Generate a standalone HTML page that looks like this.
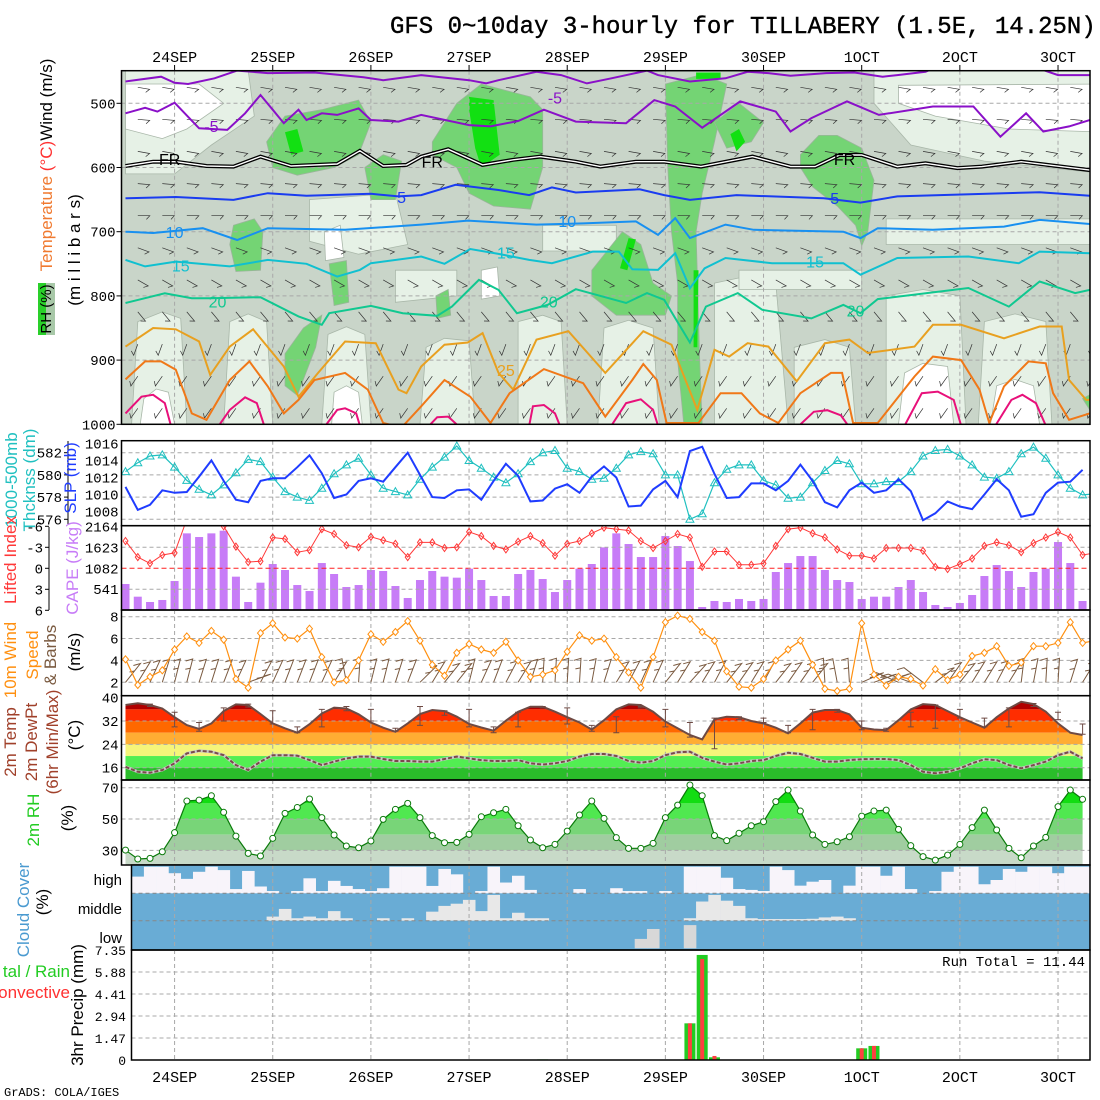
<!DOCTYPE html>
<html><head><meta charset="utf-8">
<style>
html,body{margin:0;padding:0;background:#fff;}
svg{display:block;font-family:"Liberation Mono",monospace;}
</style></head>
<body>
<svg id="chart" width="1100" height="1100" viewBox="0 0 1100 1100" xmlns="http://www.w3.org/2000/svg">
<rect x="0" y="0" width="1100" height="1100" fill="#fff"/>
<text x="390" y="33" font-size="24" fill="#000" stroke="#000" stroke-width="0.4">GFS 0~10day 3-hourly for TILLABERY (1.5E, 14.25N)</text>
<g id="g"></g>
<text x="4" y="1096" font-size="12" fill="#000">GrADS: COLA/IGES</text>
</svg>
<script>
// ---------- DATA ----------
const dayLabels = ["24SEP","25SEP","26SEP","27SEP","28SEP","29SEP","30SEP","1OCT","2OCT","3OCT"];
const dayIndex = [4,12,20,28,36,44,52,60,68,76];
const slp = [1010.9,1008.2,1008.8,1010.5,1010.2,1010.3,1012.1,1014.0,1011.6,1009.4,1009.1,1011.6,1011.9,1011.9,1013.2,1014.6,1012.5,1009.6,1010.0,1011.6,1011.9,1011.5,1013.2,1014.9,1012.3,1009.7,1009.6,1010.5,1010.6,1009.4,1011.6,1013.6,1012.2,1009.2,1009.3,1010.7,1011.2,1010.2,1012.1,1013.3,1012.0,1008.6,1008.7,1010.6,1011.6,1009.7,1015.1,1015.6,1012.4,1009.6,1009.7,1011.3,1011.3,1010.5,1011.6,1013.5,1011.6,1009.1,1008.5,1010.5,1011.4,1010.2,1010.5,1011.8,1010.4,1007.0,1007.8,1009.2,1008.6,1008.3,1010.0,1011.8,1010.5,1007.4,1007.7,1010.2,1011.4,1011.5,1012.9];
const thick = [580.3,581.1,581.7,581.8,580.7,579.5,578.7,578.2,579.1,580.2,581.4,581.2,579.8,578.5,578.0,577.7,578.8,580.1,580.9,581.5,580.0,578.8,578.5,578.2,579.6,580.7,581.6,582.6,581.3,580.6,579.8,579.3,580.1,581.2,582.0,582.2,580.6,580.3,579.6,579.7,580.6,581.8,582.1,581.9,580.0,580.0,576.0,576.5,579.3,580.5,580.9,580.9,579.5,579.1,577.9,578.0,579.3,580.4,581.3,581.0,579.2,579.2,579.4,579.4,580.3,581.7,582.2,582.3,581.7,580.9,579.8,579.7,580.3,581.9,582.5,581.5,580.0,578.8,578.2,578.3];
const cape = [675,346,208,260,753,1991,1896,1991,2060,866,208,710,1195,1039,649,493,1220,935,597,649,1039,1013,623,312,779,1013,866,840,1073,779,364,364,935,1039,805,467,779,1073,1195,1627,1991,1714,1376,1376,1922,1662,1272,78,234,208,286,234,286,987,1220,1402,1402,1039,779,727,286,346,346,597,779,467,130,78,182,390,883,1168,1013,597,987,1073,1766,1220,234];
const liftedIndex = [-3.9,-1.6,-0.7,-1.9,-2.2,-7,-7,-7,-6.0,-3.1,-0.9,-1.0,-4.4,-4.2,-2.3,-2.6,-5.6,-4.9,-3.3,-3.0,-4.5,-4.0,-3.5,-1.6,-3.7,-3.7,-2.9,-3.0,-5.2,-4.6,-3.2,-2.7,-3.8,-4.6,-3.6,-1.8,-3.5,-3.9,-5.0,-5.8,-5.6,-5.4,-3.9,-2.9,-3.9,-4.9,-4.4,-0.2,-2.4,-2.4,-0.5,-0.5,-0.7,-3.2,-5.6,-5.8,-5.0,-4.4,-2.7,-1.8,-1.8,-1.4,-2.9,-2.9,-2.9,-2.5,-0.2,0.1,-0.6,-1.4,-3.2,-3.7,-3.3,-2.3,-3.6,-4.4,-5.2,-4.4,-1.9,-2.2];
const windSpeed = [4.1,1.75,2.5,3.1,5.0,6.2,5.6,6.7,5.9,2.3,1.5,6.5,7.4,6.1,6.0,6.9,4.3,2.0,2.2,4.0,6.4,5.7,6.6,7.6,5.8,3.6,2.6,4.7,5.5,5.0,4.7,5.7,4.0,2.5,2.7,3.1,4.8,6.3,5.8,6.0,4.3,2.9,1.5,4.3,7.5,8.1,7.8,6.6,5.8,3.0,1.6,1.5,2.3,4.0,5.0,5.8,3.6,1.4,1.2,1.4,7.4,2.7,1.7,2.5,2.3,1.7,3.2,2.2,2.7,4.4,4.7,5.3,3.5,3.8,5.3,5.3,5.6,7.5,5.6,5.8];
const windDir = [250,240,230,220,215,215,220,220,225,230,300,235,230,225,225,225,230,240,180,200,215,215,220,225,260,240,250,250,215,230,225,235,240,220,200,200,200,200,210,220,240,235,230,230,250,240,255,240,235,250,245,240,235,250,245,245,250,190,180,190,290,300,315,100,95,120,270,245,250,240,240,235,240,205,210,200,200,220,240,230];
const temp2m = [37.5,38.1,37.5,36.3,33.3,30.6,29.3,31.2,35.4,37.7,37.5,34.4,31.2,29.5,28.0,30.9,34.6,36.6,36.3,34.3,31.5,29.7,28.3,31.2,34.4,35.8,35.4,33.5,31.0,29.8,28.7,32.1,35.2,36.9,36.9,35.2,33.3,31.5,29.1,32.3,36.0,37.7,37.5,35.2,31.8,29.5,27.2,25.7,32.6,33.5,33.3,32.0,31.2,29.7,27.8,31.2,34.9,35.8,35.8,34.3,29.7,29.1,28.9,32.3,36.0,37.8,37.5,35.4,33.3,31.5,29.7,33.3,36.3,38.6,37.8,35.2,31.2,28.0,27.2];
const dewPt = [16.3,14.6,14.3,15.2,17.5,20.9,21.8,21.5,20.3,16.9,15.2,18.1,20.3,20.3,20.1,18.6,16.9,18.1,19.2,19.8,19.8,19.0,18.3,18.3,18.1,18.1,19.0,19.8,19.2,18.6,18.3,18.3,18.6,17.5,17.1,17.5,18.3,19.8,20.7,20.7,20.0,18.3,17.7,18.3,20.3,21.3,21.5,19.4,18.1,17.1,17.5,18.3,18.6,20.0,21.1,20.7,19.4,18.1,18.1,18.6,18.9,19.0,19.0,18.6,16.9,14.6,14.1,14.6,15.8,17.5,18.9,18.6,16.9,15.8,16.9,18.1,20.3,21.5,19.2];
const tMaxIdx = [2,4,6,8,10,12,14,16,18,20,22,24,26,28,30,32,34,36,38,40,42,44,46,48,50,52,54,56,58,60,62,64,66,68,70,72,74,76,78];
const tMax = [37.8,35.0,31.5,36.5,37.8,35.5,30.0,36.0,37.0,36.0,29.5,37.0,35.5,36.0,30.0,35.0,37.0,36.5,30.5,33.5,37.0,36.0,31.5,33.0,33.5,33.0,30.5,36.0,36.0,32.0,29.5,35.0,37.5,36.0,33.0,36.5,38.0,35.0,31.0];
const tMin = [37.0,30.0,28.5,32.0,36.8,31.0,28.0,30.0,35.5,32.0,28.5,30.5,34.0,30.0,28.0,30.0,36.5,31.0,28.5,28.0,36.5,30.0,26.5,22.5,32.5,31.5,28.0,29.0,35.0,29.0,28.5,30.0,29.5,33.0,30.0,30.0,37.0,32.5,27.5];
const rh2m = [30.2,24.5,24.9,29.1,41.3,61.5,62.1,64.9,54.3,39.1,28.1,26.4,37.7,53.6,57.4,62.8,50.9,39.8,32.8,31.7,36.0,49.8,56.2,60.0,50.9,39.4,34.9,35.1,40.2,51.5,54.0,56.2,45.7,36.6,31.7,33.8,42.3,52.6,61.5,50.4,38.1,31.3,31.3,34.5,50.9,58.9,71.7,64.9,39.4,36.2,40.9,45.7,48.3,61.1,68.5,55.1,39.8,33.8,35.5,38.7,51.9,55.1,55.7,43.4,33.0,26.0,23.8,27.0,33.8,44.5,55.7,43.0,31.3,25.3,32.8,38.3,57.9,68.5,62.6];
const cloudHigh = [0,0.59,0.94,0.94,0.71,0.51,0.76,0.94,0.82,0.15,0.79,0.24,0.08,0,0.08,0.53,0.08,0.44,0.26,0.15,0.08,0.18,0.94,0.94,0.94,0.26,0.86,0.67,0,0.08,0.94,0.38,0.62,0.12,0,0,0,0.15,0,0,0.18,0.08,0.08,0,0.08,0,0.94,0.94,0.94,0.55,0.15,0.12,0.08,0.94,0.82,0.27,0.41,0.47,0,0.27,0.94,0.94,0.62,0.94,0.15,0,0.08,0.76,0.94,0.94,0.32,0.47,0.86,0.76,0.94,0.94,0.71,0.94,0.94,0.94];
const cloudMid = [0,0,0,0,0,0,0,0,0,0,0,0,0.15,0.43,0.09,0.15,0.09,0.35,0.09,0,0,0.09,0,0.09,0,0.33,0.54,0.62,0.76,0.35,0.94,0.09,0.29,0.09,0.09,0,0,0,0,0,0,0,0,0,0,0,0.09,0.7,0.94,0.73,0.54,0.09,0.06,0.06,0.06,0.06,0.07,0.12,0.15,0.09,0,0,0,0,0,0,0,0,0,0,0,0,0,0,0,0,0,0,0,0];
const cloudLow = [0,0,0,0,0,0,0,0,0,0,0,0,0,0,0,0,0,0,0,0,0,0,0,0,0,0,0,0,0,0,0,0,0,0,0,0,0,0,0,0,0,0,0.34,0.7,0,0,0.84,0,0,0,0,0,0,0,0,0,0,0,0,0,0,0,0,0,0,0,0,0,0,0,0,0,0,0,0,0,0,0,0,0];
const precipIdx = [34,41,46,47,48,60,61];
const precipTotal = [0.04,0.03,2.45,7.02,0.18,0.78,0.94];
const precipConv = [0.03,0.03,2.45,6.75,0.27,0.78,0.94];
// upper-air temperature contours: time index + pressure (mb)
const cm10Idx = [0,2.9,4,5.1,7.25,9.1,11.6,15.4,19.4,21,24.1,28,29.4,30.4,33.5,35.5,37.6,39.6,42.5,43.4,46,48.9,50.7,52.4,54.2,57.1,59.4,61.7,62.9,65.2,65.8,68.7,74,76,78.6,80];
const cm10P = [466,458.5,468,470,461,449,453,452,459.5,464,456,464,469,464,451,456,469,461,449,456,466,461,451,453,457,453,452,458.5,456,451,446,446,443,456,456,456];
const cm5Idx = [0,1.6,2.6,4,6,8.3,9.75,11,12,12.9,14.1,14.75,16,17.25,19,20,22.25,24.1,28,29.75,32,34.1,36.7,40.8,43.1,44.8,47,50.1,53,54.2,55.9,58.8,61.4,65.8,69.1,71.3,73.4,74.8,76.9,78.6,80];
const cm5P = [515.6,507,513,499,539,541.5,515.6,487,510,531,510,526,515.6,518,508,526,528.5,518,534,536,527.5,510,528.5,531,495,505,538,497,513,544,523,497,518,505,505,552,515.6,544,536,526,526];
const c0Idx = [0,2.25,4.1,6.6,8.8,11,13.5,17.25,19.1,21,22.9,24.1,26.3,29.1,31.6,33.8,36.7,38.7,41.6,43.9,46.9,51.1,54.2,56.2,58.2,60,62.9,65.2,67.8,69.8,73,78.6,80];
const c0P = [597.6,591,591,597.6,598.6,583,597.6,594.5,574,597.6,596,583,571.6,596,588,583,591,598.6,591,591,598.6,583,598.6,598.6,580.5,580.5,598.6,593.5,601,598.6,591,604,604];
const c5Idx = [0,4.1,8.8,11.6,14.75,20,22.25,24.1,26.9,30.4,32.9,34.75,36.7,41.9,43.9,46,49.8,56.9,59.9,62.9,71.6,74.5,78.6,80];
const c5P = [648,646,650.5,640,644,641,645,643,627,635,643,631,639,634,643,650.5,643,648,654.7,645,640,638.6,644,644];
const c10Idx = [0,2.25,6.3,9.1,11.6,17.9,24.1,27.9,33.5,37.3,41.6,43.4,44.8,46,48.9,51.2,58.5,59.9,61.3,65.8,71.6,74.5,78.6,80];
const c10P = [700,702,694.6,713,694.6,697,689,682.7,689,687,684,705,679,710,689,697,700,710,694.6,697,692,681.6,688,688];
const c15Idx = [0,1.6,4.1,8.5,11.6,14.75,17.25,19.1,20,24.1,26,28.1,30.4,32.9,34.75,38.1,40.2,41.3,43.4,44.8,46,47.2,48.9,52.7,58.5,59.9,62.9,68.7,72.8,74.5,78.6,80];
const c15P = [744,754,746.5,754,744,750,770,759.5,749,738.7,750,727,734.6,744,749,731,731,758.5,759.5,733.5,788,757,741,749,749,767,741,738.7,749,731,733.5,733.5];
const c20Idx = [0,3.2,5.4,6.9,11,14.1,16,16.6,20,22.6,25.4,26.6,28.8,30.4,31.9,34.4,36.7,40.8,42.5,43.9,46,47.3,49.9,51.9,55.9,58.5,59.9,61.3,68.7,72,74.5,77.4,78.6,80];
const c20P = [811,796,803.6,803.6,802,832,845,827,815.6,827,831,816.6,775,790.6,827,814,789.6,811,795.6,806,872.6,816.6,795.6,821.6,835,814,827,805,787.7,816.6,777.6,795.6,790.6,790];
const c25Idx = [0,2.25,4.1,6,6.9,8.5,10.4,12.9,14.1,15.7,17.9,20.4,22.25,22.9,24.1,26,27.9,29.1,30.4,31.6,33.5,36.1,39.1,42.2,44.5,46.6,48,49.2,50.7,52.4,54.7,57,59,60.5,64.3,65.8,68.1,71.6,74.5,76.3,76.9,78.3,80];
const c25P = [879,850,852,871,923,879,852,910,957,920,871,873.7,946,951.5,910,876,872.6,858,920,946,868,855,920,855,876,977.5,884,894.5,873.7,879,933,873.7,868,889,879,845,845,866,847.7,847.7,931,962,962];
const c30Idx = [0,1.6,2.9,4.1,5.4,6.6,8.5,10.1,11.6,12.9,14.1,15.4,17.9,19.75,21,22.5,24.1,26,28.1,29.75,31.3,34.1,37.3,39.1,41.3,42.2,43.3,44.1,46.7,48.5,50.2,51.7,53.2,55,57.5,58.4,59.3,61.3,64.3,65.8,68.1,69.6,70.4,71.6,73.6,75,75.6,76.9,78.6,80];
const c30P = [930,902,902,915,983,993,931,902,941,983,962,931,920,946,998,1005,972,931,957,998,951.5,914,936,988,931,906,931,998,998,951.5,951.5,983,998,951.5,920,920,998,998,925.6,894.5,900,946,998,941,902,905,951.5,993,983,983];
const c35Segs = [
  [[0,983],[1.3,957],[2.25,954],[3.2,967],[3.7,1002]],
  [[7.6,1002],[8.5,977.5],[9.75,958],[10.7,967],[11.3,1002]],
  [[16.3,1002],[17.25,977.5],[17.9,975],[18.8,983],[19.1,1002]],
  [[24.75,1002],[25.4,989],[26.3,988],[27.1,1002]],
  [[32.9,1002],[33.2,972],[34.1,970],[35,983],[35.4,1002]],
  [[39.6,1002],[40.8,967],[42,961],[43,977.5],[43.4,1002]],
  [[54.9,1002],[56.1,980.6],[57.2,978],[58.3,986],[58.9,1002]],
  [[63.5,1002],[64.9,951.5],[66.2,949],[67.5,962],[68.1,1002]],
  [[70.9,1002],[72.2,962],[73.1,954],[74.2,967],[75,1002]]
];
// RH (%) shading regions in time-index / pressure space
const rhLight = [
  [[0,449],[10,449],[10.5,520],[7,565],[4,610],[0,610]],
  [[61,449],[80,449],[80,610],[70,590],[64,565],[61,500]],
  [[15,650],[22,640],[23,720],[19,735],[15,715]],
  [[22,760],[27,760],[27,800],[22,810]],
  [[1,840],[3,825],[4.5,835],[5,1000],[0.5,1000]],[[8.5,840],[10,828],[11.5,840],[12,1000],[8,1000]],
  [[16.5,860],[18,848],[19.5,860],[20,1000],[16,1000]],[[24.5,880],[26,866],[28,870],[28.5,1000],[24,1000]],
  [[32,840],[34,830],[35.5,840],[36,1000],[32,1000]],[[39,850],[41,838],[43,850],[43.5,1000],[38.5,1000]],
  [[48,780],[50.5,770],[53,780],[54,1000],[48,1000]],[[54.5,880],[57,868],[59,880],[59.5,1000],[54.5,1000]],
  [[62,800],[65,790],[68,800],[68.5,1000],[62,1000]],[[70,840],[72.5,828],[75,840],[75.5,1000],[69.5,1000]],
  [[34,690],[40,690],[40,730],[34,730]],[[62,680],[79,680],[79,720],[62,720]],[[50,760],[60,760],[60,790],[50,790]]
];
const rhWhite = [
  [[0,470],[6,470],[8,500],[5,540],[3,555],[0,540]],
  [[63,472],[80,470],[80,545],[72,540],[66,520],[63,500]],
  [[1.5,960],[2.5,945],[3.5,950],[4,1000],[1.2,1000]],[[17,950],[18,940],[19,950],[19.3,1000],[16.8,1000]],
  [[63.5,920],[65,905],[67,910],[67.5,1000],[63,1000]],[[71,940],[72.5,930],[74,940],[74.5,1000],[70.5,1000]],
  [[29,760],[30.3,755],[30.5,800],[29,805]],[[16.2,700],[17.5,690],[17.8,740],[16.3,745]]
];
const rhGreen = [
  [[11.5,560],[13,520],[16,510],[19,495],[20,530],[19,580],[17,600],[14,612],[12,600]],
  [[19.5,600],[21,580],[22.5,590],[22,650],[20,650]],
  [[8.8,690],[10.5,680],[11.2,700],[11,760],[9,762],[8.5,720]],
  [[16.6,750],[18,745],[18.2,810],[17,815]],
  [[13,890],[14.5,850],[16,830],[15.5,880],[14,955],[13,940]],
  [[25,560],[27,500],[29,470],[33,490],[34,510],[34,600],[33,665],[30,660],[28,640],[27,600],[25,580]],
  [[25.3,800],[26.3,790],[26.5,830],[25.4,835]],
  [[44,470],[47,455],[49,470],[48,560],[47,640],[46.5,700],[46.8,900],[47,1000],[45.5,1000],[45,900],[45,780],[44.5,700],[44.2,600]],
  [[38,760],[40.5,700],[42,720],[43,780],[44.5,800],[44,830],[40,830],[38,800]],
  [[48,530],[50,500],[52,530],[51,560],[49,570]],
  [[55,580],[56.5,550],[58,550],[60,570],[61,620],[60.5,700],[60,722],[59.5,690],[58,660],[56,630],[55,600]],
  [[78,960],[79,950],[80,975],[79,990]]
];
const rhBright = [
  [[28,490],[30,495],[30.5,580],[29,600],[28.5,570],[28,510]],
  [[13,545],[14,540],[14.5,575],[13.5,580]],
  [[41,710],[41.6,712],[40.9,760],[40.3,757]],
  [[49.3,548],[50,540],[50.5,560],[49.8,575]],
  [[46.5,452],[48.5,452],[48.5,462],[46.5,462]],
  [[46.3,760],[46.7,760],[46.6,880],[46.3,880]]
];
const barbLevels = [475,525,575,625,675,725,775,825,875,925,975];
const barbLevelDir = [100,95,100,95,90,110,120,140,200,215,215];

// ---------- helpers ----------
const NS = "http://www.w3.org/2000/svg";
const G = document.getElementById("g");
function el(tag, attrs, parent){ const e=document.createElementNS(NS,tag); for(const k in attrs) e.setAttribute(k,attrs[k]); (parent||G).appendChild(e); return e; }
const X0=125.5, DX=12.27, PL=121.5, PR=1090;
const xI = i => X0 + DX*i;
const yP = p => 103.3 + (p-500)*0.642;
const ySLP = p => 443.3 + (1016-p)*8.54;
const yTh = t => 452.7 + (582-t)*11.1;
const yCape = c => 610 - c*83.3/2164;
const yLI = l => 568.3 + l*7;
const yW = w => 616.7 + (8-w)*10.93;
const yT = t => 697.7 + (40-t)*2.917;
const yRH = r => 787.7 + (70-r)*1.567;
const yPr = v => 1060 - v*110/7.35;
const grid = "#a8a8a8";

const defs = el("defs",{});
function clip(id,x,y,w,h){ const c=el("clipPath",{id:id},defs); el("rect",{x:x,y:y,width:w,height:h},c); }
clip("cTop",PL,70.7,PR-PL,353.6);
clip("cSlp",PL,440.7,PR-PL,85);
clip("cCape",PL,525.7,PR-PL,84.3);
clip("cWind",PL,610,PR-PL,85.7);
clip("cCloud",131.5,865,PR-131.5,85);

function poly(pts, attrs, parent){ return el("polyline", Object.assign({points: pts.map(p=>p[0].toFixed(1)+","+p[1].toFixed(1)).join(" "), fill:"none"}, attrs), parent); }
function polygon(pts, attrs, parent){ return el("polygon", Object.assign({points: pts.map(p=>p[0].toFixed(1)+","+p[1].toFixed(1)).join(" ")}, attrs), parent); }
function hgrid(y,x1,x2,parent,color){ el("line",{x1:x1,y1:y,x2:x2,y2:y,stroke:color||grid,"stroke-dasharray":"4,3","stroke-width":1},parent); }
function label(txt,x,y,size,anchor,color,parent){ const t=el("text",{x:x,y:y,"font-size":size,"text-anchor":anchor||"end",fill:color||"#000"},parent); t.textContent=txt; return t; }
function vlabel(parts,cx,cy,size,name){ const t=el("text",{x:0,y:0,"font-size":size,"text-anchor":"middle",transform:`translate(${cx},${cy}) rotate(-90)`,"font-family":"Liberation Sans, sans-serif"});   parts.forEach(p=>{const s=el("tspan",{fill:p[1]},t); s.textContent=p[0];}); return t; }

// ---------- TOP PANEL ----------
const gTop = el("g",{"clip-path":"url(#cTop)"});


el("rect",{x:PL,y:70.7,width:PR-PL,height:353.6,fill:"#c9d5c9"},gTop);
const toXY = poly_ => poly_.map(q=>[xI(q[0]),yP(q[1])]);
rhLight.forEach(r=>{ const s=polygon(toXY(r),{fill:"#e6f1e6",stroke:"#a9b7a9","stroke-width":0.8},gTop);   });
rhWhite.forEach(r=>{ const s=polygon(toXY(r),{fill:"#ffffff",stroke:"#a9b7a9","stroke-width":0.8},gTop);   });
rhGreen.forEach(r=>{ const s=polygon(toXY(r),{fill:"#74d474",stroke:"#9ab59a","stroke-width":0.8},gTop);   });
rhBright.forEach(r=>{ const s=polygon(toXY(r),{fill:"#12e012"},gTop);   });
[500,600,700,800,900].forEach(p=>hgrid(yP(p),PL,PR,gTop));
dayIndex.forEach(i=>el("line",{x1:xI(i),y1:70.7,x2:xI(i),y2:424.3,stroke:grid,"stroke-dasharray":"4,3"},gTop));
barbLevels.forEach((lev,li)=>{
  for(let i=1;i<80;i+=2){
    const x=xI(i), y=yP(lev), a=barbLevelDir[li]*Math.PI/180, L=12;
    const x2=x+L*Math.sin(a), y2=y-L*Math.cos(a);
    const b=el("polyline",{points:`${x.toFixed(1)},${y.toFixed(1)} ${x2.toFixed(1)},${y2.toFixed(1)} ${(x2+5*Math.sin(a+2.3)).toFixed(1)},${(y2-5*Math.cos(a+2.3)).toFixed(1)}`,fill:"none",stroke:"#333","stroke-width":0.7},gTop);
    
    
  }
});
function contour(idx,pr,color,name,w){ const pts=idx.map((v,k)=>[xI(v),yP(pr[k])]); const l=poly(pts,{stroke:color,"stroke-width":w||2},gTop);   return pts; }
contour(cm10Idx,cm10P,"#8a10c8","temp-contour-minus10");
contour(cm5Idx,cm5P,"#8a10c8","temp-contour-minus5");
const frPts = c0Idx.map((v,k)=>[xI(v),yP(c0P[k])]);
poly(frPts,{stroke:"#000","stroke-width":4},gTop);
const fr = poly(frPts,{stroke:"#fff","stroke-width":1.4},gTop);


contour(c5Idx,c5P,"#1a3cf0","temp-contour-5");
contour(c10Idx,c10P,"#1890f0","temp-contour-10");
contour(c15Idx,c15P,"#10c0d0","temp-contour-15");
contour(c20Idx,c20P,"#10c890","temp-contour-20");
contour(c25Idx,c25P,"#e8a020","temp-contour-25");
contour(c30Idx,c30P,"#f07818","temp-contour-30");
c35Segs.forEach(s=>{ const l=poly(s.map(q=>[xI(q[0]),yP(q[1])]),{stroke:"#e8107a","stroke-width":2},gTop);   });
[["-5",7,545,"#8a10c8"],["-5",35,500,"#8a10c8"],["FR",3.6,596,"#000"],["FR",25,600,"#000"],["FR",58.6,596,"#000"],["5",22.5,655,"#1a3cf0"],["5",57.8,657,"#1a3cf0"],
 ["10",4,710,"#1890f0"],["10",36,693,"#1890f0"],["15",4.5,762,"#10c0d0"],["15",31,742,"#10c0d0"],["15",56.2,756,"#10c0d0"],["20",7.5,818,"#10c890"],["20",34.5,818,"#10c890"],["20",59.5,832,"#10c890"],["25",31,925,"#e8a020"]]
.forEach(c=>{ const t=label(c[0],xI(c[1]),yP(c[2]),16,"middle",c[3],gTop); t.setAttribute("font-family","Liberation Sans, sans-serif");   });
el("rect",{x:PL,y:70.7,width:PR-PL,height:353.6,fill:"none",stroke:"#000","stroke-width":1.5});
[500,600,700,800,900,1000].forEach(p=>{ el("line",{x1:PL-5,y1:yP(p),x2:PL,y2:yP(p),stroke:"#000"}); const t=label(String(p),PL-6,yP(p)+5,14);   });
dayIndex.forEach((i,k)=>{ el("line",{x1:xI(i),y1:65,x2:xI(i),y2:70.7,stroke:"#000"}); const t=label(dayLabels[k],xI(i),62,15,"middle");   });

// ---------- SLP / THICKNESS ----------
const gS = el("g",{"clip-path":"url(#cSlp)"});


[582,580,578,576].forEach(t=>hgrid(yTh(t),PL,PR,gS));
dayIndex.forEach(i=>el("line",{x1:xI(i),y1:440.7,x2:xI(i),y2:525.7,stroke:grid,"stroke-dasharray":"4,3"},gS));
const thPts = thick.map((v,i)=>[xI(i),yTh(v)]);
const thL=poly(thPts,{stroke:"#20c0c0","stroke-width":1.2},gS);


thPts.forEach(p=>{ const m=polygon([[p[0],p[1]-4],[p[0]-4,p[1]+3],[p[0]+4,p[1]+3]],{fill:"none",stroke:"#20c0c0","stroke-width":1},gS);   });
const slL=poly(slp.map((v,i)=>[xI(i),ySLP(v)]),{stroke:"#1f3cff","stroke-width":2},gS);


el("rect",{x:PL,y:440.7,width:PR-PL,height:85,fill:"none",stroke:"#000","stroke-width":1.5});
[1016,1014,1012,1010,1008].forEach(p=>{ const t=label(String(p),PL-3,ySLP(p)+5,14);   });
el("line",{x1:68,y1:441,x2:68,y2:525,stroke:"#000"});
[582,580,578,576].forEach(v=>{ el("line",{x1:64,y1:yTh(v),x2:68,y2:yTh(v),stroke:"#000"}); const t=label(String(v),62,yTh(v)+5,14);   });

// ---------- CAPE / LI ----------
const gC = el("g",{"clip-path":"url(#cCape)"});


cape.forEach((v,i)=>{ const r=el("rect",{x:xI(i)-4,y:yCape(v),width:8,height:610-yCape(v),fill:"#c77cf7"},gC);   });
[-3,3].forEach(l=>hgrid(yLI(l),PL,PR,gC));
el("line",{x1:PL,y1:yLI(0),x2:PR,y2:yLI(0),stroke:"#ff2020","stroke-dasharray":"5,3"},gC);
dayIndex.forEach(i=>el("line",{x1:xI(i),y1:525.7,x2:xI(i),y2:610,stroke:grid,"stroke-dasharray":"4,3"},gC));
const liPts = liftedIndex.map((v,i)=>[xI(i),yLI(v)]);
const liL=poly(liPts,{stroke:"#ff3838","stroke-width":1},gC);


liPts.forEach(p=>{ const m=polygon([[p[0],p[1]-3.5],[p[0]+2.5,p[1]],[p[0],p[1]+3.5],[p[0]-2.5,p[1]]],{fill:"none",stroke:"#ff3838"},gC);   });
el("rect",{x:PL,y:525.7,width:PR-PL,height:84.3,fill:"none",stroke:"#000","stroke-width":1.5});
[[541,"541"],[1082,"1082"],[1623,"1623"],[2164,"2164"]].forEach(c=>{ const t=label(c[1],PL-3,yCape(c[0])+5,14);   });
el("line",{x1:49,y1:527,x2:49,y2:610,stroke:"#000"});
[[-6,"-6"],[-3,"-3"],[0,"0"],[3,"3"],[6,"6"]].forEach(c=>{ el("line",{x1:45,y1:yLI(c[0]),x2:49,y2:yLI(c[0]),stroke:"#000"}); const t=label(c[1],43,yLI(c[0])+5,14);   });

// ---------- 10m WIND ----------
const gW = el("g",{"clip-path":"url(#cWind)"});


[8,6,4,2].forEach(w=>hgrid(yW(w),PL,PR,gW));
dayIndex.forEach(i=>el("line",{x1:xI(i),y1:610,x2:xI(i),y2:695.7,stroke:grid,"stroke-dasharray":"4,3"},gW));
windDir.forEach((d,i)=>{
  const tilt=Math.max(-70,Math.min(70,(d-195)*0.7))*Math.PI/180;
  const x=xI(i), yb=yW(2.0), L=24;
  const xt=x+L*Math.sin(tilt), yt=yb-L*Math.cos(tilt);
  const fx=xt+7*Math.cos(tilt)*0.6+5*Math.sin(tilt), fy=yt+4;
  const b=el("polyline",{points:`${x.toFixed(1)},${yb.toFixed(1)} ${xt.toFixed(1)},${yt.toFixed(1)} ${(xt-7).toFixed(1)},${(yt+2).toFixed(1)}`,fill:"none",stroke:"#7a5a40","stroke-width":1},gW);
  
  
  const f=el("line",{x1:(x+0.6*(xt-x)).toFixed(1),y1:(yb+0.6*(yt-yb)).toFixed(1),x2:(x+0.6*(xt-x)-5).toFixed(1),y2:(yb+0.6*(yt-yb)+1).toFixed(1),stroke:"#7a5a40","stroke-width":1},gW);
  
  
});
const wsPts = windSpeed.map((v,i)=>[xI(i),yW(v)]);
const wsL=poly(wsPts,{stroke:"#ff9010","stroke-width":1.2},gW);


wsPts.forEach(p=>{ const m=polygon([[p[0],p[1]-3.5],[p[0]+3,p[1]],[p[0],p[1]+3.5],[p[0]-3,p[1]]],{fill:"#fff",stroke:"#ff9010"},gW);   });
el("rect",{x:PL,y:610,width:PR-PL,height:85.7,fill:"none",stroke:"#000","stroke-width":1.5});
[8,6,4,2].forEach(w=>{ const t=label(String(w),PL-3,yW(w)+5,14);   });

// ---------- TEMPERATURE ----------
const clipT = el("clipPath",{id:"cTemp"},defs);
const tPts = temp2m.map((v,i)=>[xI(i),yT(v)]);
polygon([[xI(0),780]].concat(tPts).concat([[xI(temp2m.length-1),780]]),{},clipT);
const gT = el("g",{"clip-path":"url(#cTemp)"});


const tBands = [[50,36,"#b00000"],[36,32,"#ff2d00"],[32,28,"#ff6800"],[28,24,"#ffad33"],[24,20,"#f5f57a"],[20,16,"#52ee52"],[16,0,"#2abd2a"]];
tBands.forEach(b=>{ const y1=Math.max(yT(b[0]),695.7), y2=Math.min(yT(b[1]),780); el("rect",{x:PL,y:y1,width:PR-PL,height:y2-y1,fill:b[2]},gT); });
[32,24,16].forEach(t=>hgrid(yT(t),PL,PR,null));
dayIndex.forEach(i=>el("line",{x1:xI(i),y1:695.7,x2:xI(i),y2:780,stroke:grid,"stroke-dasharray":"4,3"}));
const tL=poly(tPts,{stroke:"#6e4a44","stroke-width":2});


tMaxIdx.forEach((i,k)=>{
  const x=xI(i), y1=yT(tMax[k]), y2=yT(tMin[k]);
  const e=el("path",{d:`M${(x-3).toFixed(1)},${y1.toFixed(1)}H${(x+3).toFixed(1)}M${x.toFixed(1)},${y1.toFixed(1)}V${y2.toFixed(1)}M${(x-3).toFixed(1)},${y2.toFixed(1)}H${(x+3).toFixed(1)}`,stroke:"#6e4a44","stroke-width":1,fill:"none"});
  
  
});
const dPts = dewPt.map((v,i)=>[xI(i),yT(v)]);
poly(dPts,{stroke:"#c8c8c8","stroke-width":3});
const dL=poly(dPts,{stroke:"#7a4a4a","stroke-width":2,"stroke-dasharray":"4,2"});


el("rect",{x:PL,y:695.7,width:PR-PL,height:84.3,fill:"none",stroke:"#000","stroke-width":1.5});
[40,32,24,16].forEach(t=>{ const l=label(String(t),PL-3,yT(t)+5,14);   });

// ---------- RH ----------
const clipR = el("clipPath",{id:"cRH"},defs);
const rPts = rh2m.map((v,i)=>[xI(i),yRH(v)]);
polygon([[xI(0),865]].concat(rPts).concat([[xI(rh2m.length-1),865]]),{},clipR);
const gR = el("g",{"clip-path":"url(#cRH)"});


[[100,60,"#12dd12"],[60,50,"#50e850"],[50,40,"#78d578"],[40,30,"#a0cda0"],[30,0,"#c8dac8"]].forEach(b=>{ const y1=Math.max(yRH(b[0]),780), y2=Math.min(yRH(b[1]),865); el("rect",{x:PL,y:y1,width:PR-PL,height:y2-y1,fill:b[2]},gR); });
[70,50,30].forEach(r=>hgrid(yRH(r),PL,PR,null));
dayIndex.forEach(i=>el("line",{x1:xI(i),y1:780,x2:xI(i),y2:865,stroke:grid,"stroke-dasharray":"4,3"}));
const rL=poly(rPts,{stroke:"#0a7a0a","stroke-width":1.2});


rPts.forEach(p=>{ const c=el("circle",{cx:p[0],cy:p[1],r:3,fill:"#fff",stroke:"#0a7a0a"});   });
el("rect",{x:PL,y:780,width:PR-PL,height:85,fill:"none",stroke:"#000","stroke-width":1.5});
[70,50,30].forEach(r=>{ const l=label(String(r),PL-3,yRH(r)+5,14);   });

// ---------- CLOUD ----------
const gCl = el("g",{"clip-path":"url(#cCloud)"});


el("rect",{x:131.5,y:865,width:PR-131.5,height:85,fill:"#69acd5"},gCl);
const rows = [[cloudHigh,865,893.3,"#f8f4fa","cloud-high-bar"],[cloudMid,893.3,920.7,"#e8e8e8","cloud-mid-bar"],[cloudLow,920.7,948.3,"#d8d8d8","cloud-low-bar"]];
rows.forEach(r=>{ const h=r[2]-r[1]; r[0].forEach((v,i)=>{ if(v<=0) return; const b=el("rect",{x:xI(i)-DX/2,y:r[2]-v*h,width:DX+0.3,height:v*h,fill:r[3]},gCl);   }); });
[893.3,920.7].forEach(y=>hgrid(y,131.5,PR,gCl,"#888"));
dayIndex.forEach(i=>el("line",{x1:xI(i),y1:865,x2:xI(i),y2:950,stroke:grid,"stroke-dasharray":"4,3"},gCl));
el("rect",{x:131.5,y:865,width:PR-131.5,height:85,fill:"none",stroke:"#000","stroke-width":1.5});
[["high",879],["middle",908],["low",937]].forEach(c=>{ const t=label(c[0],122,c[1]+6,15,"end","#000"); t.setAttribute("font-family","Liberation Sans, sans-serif");   });

// ---------- PRECIP ----------
const gPr = el("g",{});


[1.47,2.94,4.41,5.88].forEach(v=>hgrid(yPr(v),131.5,PR,gPr));
dayIndex.forEach(i=>el("line",{x1:xI(i),y1:950,x2:xI(i),y2:1060,stroke:grid,"stroke-dasharray":"4,3"},gPr));
precipIdx.forEach((i,k)=>{
  const b=el("rect",{x:xI(i)-5.5,y:yPr(precipTotal[k]),width:11,height:1060-yPr(precipTotal[k]),fill:"#22cc22"},gPr);
   
  const c=el("rect",{x:xI(i)-2,y:yPr(precipConv[k]),width:4,height:1060-yPr(precipConv[k]),fill:"#ff4040"},gPr);
   
});
el("rect",{x:131.5,y:950,width:PR-131.5,height:110,fill:"none",stroke:"#000","stroke-width":1.5});
[[7.35,"7.35"],[5.88,"5.88"],[4.41,"4.41"],[2.94,"2.94"],[1.47,"1.47"],[0,"0"]].forEach(c=>{ const t=label(c[1],126,yPr(c[0])+5,13);   });
const rt=label("Run Total = 11.44",1085,966,14,"end","#000");


dayIndex.forEach((i,k)=>{ const t=label(dayLabels[k],xI(i),1082,15,"middle");   });

// ---------- axis titles ----------
vlabel([["(m i l l i b a r s)","#000"]],80,250,17,"pressure-axis-title");
vlabel([["Temperature ","#f07a30"],["(°C)","#ff3030"],["Wind (m/s)","#000"]],52,165,17,"upper-axis-title");
const rhb=el("rect",{x:38,y:283,width:17,height:52,fill:"#2ad02a"});
 
el("rect",{x:46,y:283,width:9,height:52,fill:"#a8c8a8"});
vlabel([["RH (%)","#000"]],51,309,15,"rh-legend-label");
vlabel([["1000-500mb","#20c0c0"]],17,480,17,"thickness-axis-title");
vlabel([["Thcknss (dm)","#20c0c0"]],35,480,17,"thickness-axis-title-2");
vlabel([["SLP (mb)","#1f3cff"]],76,478,17,"slp-axis-title");
vlabel([["Lifted Index","#ff3838"]],16,560,17,"li-axis-title");
vlabel([["CAPE (J/kg)","#c77cf7"]],78,568,17,"cape-axis-title");
vlabel([["10m Wind","#ff9010"]],16,660,17,"wind-axis-title");
vlabel([["Speed","#ff9010"]],38,655,17,"wind-axis-title-2");
vlabel([["& Barbs","#7a5a40"]],56,655,17,"wind-axis-title-3");
vlabel([["(m/s)","#000"]],80,652,17,"wind-axis-units");
vlabel([["2m Temp","#a0402a"]],16,742,17,"temp-axis-title");
vlabel([["2m DewPt","#a0402a"]],37,742,17,"dewpt-axis-title");
vlabel([["(6hr Min/Max)","#a0402a"]],58,742,17,"minmax-axis-title");
vlabel([["(°C)","#000"]],80,735,17,"temp-axis-units");
vlabel([["2m RH","#22cc22"]],39,820,17,"rh-axis-title");
vlabel([["(%)","#000"]],73,818,17,"rh-axis-units");
vlabel([["Cloud Cover","#4a9ad0"]],29,910,17,"cloud-axis-title");
vlabel([["(%)","#000"]],48,902,17,"cloud-axis-units");
vlabel([["3hr Precip (mm)","#000"]],83,1005,17,"precip-axis-title");
const t1=label("tal / Rain",70,977,17,"end","#22cc22"); t1.setAttribute("font-family","Liberation Sans, sans-serif");  
const t2=label("Convective",70,998,17,"end","#ff3030"); t2.setAttribute("font-family","Liberation Sans, sans-serif");  
</script>
</body></html>
